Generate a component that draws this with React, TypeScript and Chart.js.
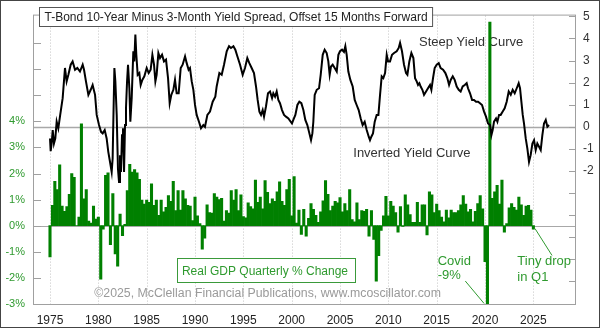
import React, { useEffect, useRef } from "react";
import { Chart, registerables } from "chart.js";

Chart.register(...registerables);

const FONT = "'Liberation Sans', Arial, Helvetica, sans-serif";

// Real GDP quarterly % change (not annualized), first bar = 1975 Q1
const gdpFirstYear = 1975;
const gdpQuarterlyPct = [
  -1.2, 0.78, 1.7, 1.38, // 1975
  2.33, 0.75, 0.55, 0.73, // 1976
  1.2, 2.0, 1.85, 0.0, // 1977
  0.33, 3.9, 1.03, 1.38, // 1978
  0.18, 0.1, 0.75, 0.25, // 1979
  0.33, -2.05, -0.13, 1.93, // 1980
  2.03, -0.73, 1.23, -1.08, // 1981
  -1.55, 0.45, -0.38, 0.05, // 1982
  1.35, 2.35, 2.05, 2.15, // 1983
  2.03, 1.78, 0.98, 0.83, // 1984
  0.98, 0.9, 1.6, 0.78, // 1985
  0.98, 0.4, 0.98, 0.53, // 1986
  0.7, 1.15, 0.93, 1.7, // 1987
  0.58, 1.35, 0.6, 1.35, // 1988
  1.03, 0.78, 0.75, 0.2, // 1989
  1.1, 0.38, 0.08, -0.9, // 1990
  -0.48, 0.8, 0.5, 0.48, // 1991
  1.23, 1.1, 1.0, 1.05, // 1992
  0.18, 0.58, 0.48, 1.35, // 1993
  0.98, 1.38, 0.58, 1.18, // 1994
  0.35, 0.3, 0.88, 0.73, // 1995
  0.65, 1.75, 0.9, 1.1, // 1996
  0.65, 1.73, 1.28, 0.85, // 1997
  1.03, 0.93, 1.3, 1.68, // 1998
  0.93, 0.78, 1.38, 1.78, // 1999
  0.38, 1.88, 0.1, 0.6, // 2000
  -0.33, 0.63, -0.4, 0.28, // 2001
  0.85, 0.63, 0.4, 0.13, // 2002
  0.53, 0.95, 1.73, 1.2, // 2003
  0.58, 0.75, 0.93, 0.88, // 2004
  1.08, 0.53, 0.85, 0.58, // 2005
  1.38, 0.23, 0.15, 0.88, // 2006
  0.23, 0.58, 0.55, 0.63, // 2007
  -0.4, 0.58, -0.53, -2.13, // 2008
  -1.15, -0.18, 0.38, 1.13, // 2009
  0.38, 0.93, 0.75, 0.5, // 2010
  -0.25, 0.73, -0.03, 1.18, // 2011
  0.8, 0.43, 0.13, 0.13, // 2012
  0.9, 0.13, 0.8, 0.8, // 2013
  -0.35, 1.3, 1.18, 0.5, // 2014
  0.83, 0.58, 0.33, 0.15, // 2015
  0.6, 0.3, 0.6, 0.5, // 2016
  0.5, 0.58, 0.8, 1.15, // 2017
  0.83, 0.53, 0.63, 0.15, // 2018
  0.55, 0.85, 1.15, 0.65, // 2019
  -1.38, -9.0, 7.8, 1.05, // 2020
  1.3, 1.55, 0.83, 1.75, // 2021
  -0.25, 0.08, 0.68, 0.85, // 2022
  0.7, 0.6, 1.1, 0.8, // 2023
  0.4, 0.75, 0.78, 0.6, // 2024
  -0.13, // 2025
];

// 10-Year minus 3-Month yield spread, offset 15 months forward (decimal years)
const spreadYears = [
  1975.0, 1975.07, 1975.17, 1975.28, 1975.41, 1975.55, 1975.69, 1975.86, 1976.03, 1976.31,
  1976.55, 1976.72, 1976.9, 1977.14, 1977.34, 1977.59, 1977.83, 1978.1, 1978.38, 1978.52,
  1978.72, 1978.97, 1979.21, 1979.41, 1979.66, 1979.83, 1980.07, 1980.28, 1980.45, 1980.66,
  1980.86, 1981.03, 1981.21, 1981.38, 1981.48, 1981.55, 1981.66, 1981.76, 1981.9, 1982.03,
  1982.14, 1982.24, 1982.34, 1982.45, 1982.55, 1982.66, 1982.76, 1982.86, 1982.97, 1983.07,
  1983.21, 1983.31, 1983.45, 1983.62, 1983.72, 1983.83, 1983.93, 1984.07, 1984.24, 1984.38,
  1984.55, 1984.76, 1985.0, 1985.21, 1985.41, 1985.59, 1985.76, 1985.9, 1986.03, 1986.21,
  1986.38, 1986.59, 1986.79, 1987.0, 1987.21, 1987.38, 1987.55, 1987.76, 1987.93, 1988.1,
  1988.31, 1988.52, 1988.72, 1988.97, 1989.14, 1989.34, 1989.48, 1989.66, 1989.83, 1990.0,
  1990.17, 1990.41, 1990.62, 1990.86, 1991.03, 1991.28, 1991.55, 1991.83, 1992.1, 1992.24,
  1992.52, 1992.76, 1993.0, 1993.28, 1993.52, 1993.72, 1993.97, 1994.17, 1994.38, 1994.66,
  1994.93, 1995.17, 1995.41, 1995.62, 1995.86, 1996.1, 1996.31, 1996.48, 1996.66, 1996.83,
  1997.0, 1997.14, 1997.34, 1997.55, 1997.76, 1997.97, 1998.1, 1998.28, 1998.45, 1998.62,
  1998.79, 1999.0, 1999.21, 1999.41, 1999.66, 1999.9, 2000.03, 2000.17, 2000.38, 2000.59,
  2000.79, 2001.0, 2001.21, 2001.41, 2001.62, 2001.83, 2002.0, 2002.14, 2002.24, 2002.38,
  2002.59, 2002.83, 2003.0, 2003.21, 2003.41, 2003.62, 2003.79, 2003.93, 2004.07, 2004.24,
  2004.45, 2004.66, 2004.83, 2005.0, 2005.21, 2005.41, 2005.55, 2005.69, 2005.86, 2006.07,
  2006.31, 2006.52, 2006.72, 2006.93, 2007.14, 2007.34, 2007.55, 2007.76, 2007.97, 2008.1,
  2008.24, 2008.41, 2008.59, 2008.79, 2008.97, 2009.14, 2009.31, 2009.48, 2009.66, 2009.83,
  2009.97, 2010.17, 2010.38, 2010.59, 2010.86, 2011.07, 2011.21, 2011.41, 2011.62, 2011.83,
  2011.97, 2012.17, 2012.38, 2012.59, 2012.76, 2012.93, 2013.07, 2013.21, 2013.34, 2013.52,
  2013.69, 2013.9, 2014.1, 2014.31, 2014.45, 2014.62, 2014.79, 2015.0, 2015.21, 2015.41,
  2015.66, 2015.9, 2016.1, 2016.28, 2016.45, 2016.66, 2016.86, 2017.07, 2017.28, 2017.48,
  2017.69, 2017.9, 2018.1, 2018.24, 2018.45, 2018.66, 2018.86, 2019.07, 2019.28, 2019.48,
  2019.69, 2019.9, 2020.1, 2020.31, 2020.52, 2020.66, 2020.79, 2020.93, 2021.14, 2021.28,
  2021.45, 2021.62, 2021.83, 2022.03, 2022.24, 2022.45, 2022.66, 2022.86, 2023.07, 2023.28,
  2023.48, 2023.62, 2023.76, 2023.9, 2024.03, 2024.21, 2024.38, 2024.55, 2024.72, 2024.9,
  2025.07, 2025.24, 2025.41, 2025.59, 2025.76, 2025.93, 2026.1, 2026.28, 2026.45, 2026.62,
];
const spreadValues = [
  -0.54, -1.12, -0.77, -0.16, -0.77, -0.54, 0.22, -0.08, 0.45, 1.29,
  2.66, 2.05, 2.35, 2.81, 2.96, 2.58, 2.66, 2.5, 2.81, 2.58,
  2.05, 1.44, 1.67, 1.89, 1.44, 0.53, 0.07, -0.24, -0.31, -0.16,
  -0.54, -1.15, -1.61, -2.06, -1.45, 0.22, 2.66, 2.05, 0.53, -1.91,
  -2.52, -1.3, -2.06, -0.39, -0.08, -2.06, 0.07, 0.83, 2.05, 2.81,
  1.74, 0.22, 1.29, 3.42, 2.96, 4.18, 3.26, 2.35, 2.43, 1.89,
  2.12, 2.28, 2.66, 2.43, 2.58, 3.26, 2.81, 2.05, 2.35, 3.34,
  3.11, 3.26, 2.96, 3.04, 2.2, 1.06, 1.44, 1.67, 2.12, 1.51,
  1.51, 2.66, 2.81, 3.19, 2.88, 2.58, 2.66, 2.05, 1.67, 0.98,
  0.53, 0.22, -0.08, 0.07, -0.01, 0.53, 0.68, 1.13, 1.36, 1.82,
  2.43, 2.35, 2.81, 3.42, 3.65, 3.57, 3.65, 3.49, 3.19, 2.81,
  2.35, 2.66, 3.11, 2.88, 2.66, 2.43, 1.82, 1.21, 0.68, 0.53,
  0.75, 0.45, 0.91, 1.51, 1.59, 1.29, 1.51, 1.36, 1.59, 1.21,
  1.06, 0.75, 0.53, 0.45, 0.37, 0.22, 0.14, 0.3, 0.53, 0.98,
  1.13, 1.06, 0.75, 0.3, 0.07, -0.31, -0.62, -0.31, 0.22, 1.44,
  1.67, 1.74, 2.35, 3.26, 3.49, 3.34, 2.96, 2.35, 2.73, 2.81,
  2.66, 2.5, 3.26, 3.42, 3.49, 3.39, 3.65, 3.26, 2.5, 2.12,
  1.82, 1.21, 0.98, 0.75, 0.37, 0.07, 0.22, -0.16, -0.46, -0.62,
  -0.46, -0.31, 0.22, 0.53, 0.53, 1.44, 2.28, 2.2, 2.43, 3.26,
  2.96, 2.96, 3.26, 3.34, 3.42, 3.57, 3.8, 3.42, 2.81, 2.43,
  2.35, 2.96, 3.34, 3.11, 2.2, 2.05, 1.89, 1.97, 1.82, 1.67,
  1.44, 1.59, 1.74, 1.89, 1.67, 2.2, 2.66, 2.81, 2.88, 2.66,
  2.58, 2.43, 2.2, 1.89, 2.12, 2.28, 2.12, 1.82, 1.67, 1.59,
  1.82, 1.89, 1.97, 1.74, 1.51, 1.21, 1.21, 1.13, 1.13, 1.06,
  0.98, 0.68, 0.45, 0.14, 0.07, -0.39, -0.16, 0.22, 0.37, 0.22,
  0.53, 0.53, 0.68, 0.83, 1.13, 1.59, 1.44, 1.67, 1.51, 1.74,
  1.97, 1.74, 1.13, 0.53, 0.14, -0.54, -1.0, -1.61, -1.3, -0.77,
  -0.62, -1.07, -0.77, -0.92, -1.07, -0.39, 0.14, 0.3, -0.01, 0.07,
];

const yearTicks = [1975, 1980, 1985, 1990, 1995, 2000, 2005, 2010, 2015, 2020, 2025];
const gdpTickValues = [-3, -2, -1, 0, 1, 2, 3, 4, 5, 6, 7];
const gdpLabelMin = -3;
const gdpLabelMax = 4;
const spreadTickValues = [-7, -6, -5, -4, -3, -2, -1, 0, 1, 2, 3, 4, 5];
const spreadLabelMin = -2;
const spreadLabelMax = 5;

const titleText = "T-Bond 10-Year Minus 3-Month Yield Spread, Offset 15 Months Forward";
const gdpLabelText = "Real GDP Quarterly % Change";
const copyrightText = "\u00A92025, McClellan Financial Publications, www.mcoscillator.com";

const GREEN = "#008000";
const LABEL_GREEN = "#2f9a2f";

const decorPlugin = {
  id: "decor",
  beforeDatasetsDraw(chart: any) {
    const { ctx, chartArea: a, scales } = chart;
    const xs = scales.x;
    const yl = scales.y;
    const yr = scales.y2;
    ctx.save();
    // dotted vertical gridlines
    ctx.strokeStyle = "#c4c4c4";
    ctx.lineWidth = 1;
    ctx.setLineDash([1, 2]);
    for (const yv of yearTicks) {
      const px = Math.round(xs.getPixelForValue(yv)) + 0.5;
      ctx.beginPath();
      ctx.moveTo(px, a.top);
      ctx.lineTo(px, a.bottom);
      ctx.stroke();
    }
    ctx.setLineDash([]);
    // zero lines
    ctx.strokeStyle = "#a8a8a8";
    ctx.lineWidth = 1.3;
    const z2 = Math.round(yr.getPixelForValue(0)) + 0.5;
    ctx.beginPath();
    ctx.moveTo(a.left, z2);
    ctx.lineTo(a.right, z2);
    ctx.stroke();
    ctx.lineWidth = 1;
    const z1 = Math.round(yl.getPixelForValue(0)) + 0.5;
    ctx.beginPath();
    ctx.moveTo(a.left, z1);
    ctx.lineTo(a.right, z1);
    ctx.stroke();

    // annotation texts (under the data)
    ctx.font = `13px ${FONT}`;
    ctx.fillStyle = "#333";
    ctx.textBaseline = "alphabetic";
    ctx.textAlign = "left";
    ctx.fillText("Steep Yield Curve", xs.getPixelForValue(2013.17), yr.getPixelForValue(3.68));
    ctx.fillText("Inverted Yield Curve", xs.getPixelForValue(2006.37), yr.getPixelForValue(-1.4));
    ctx.restore();
  },
  afterDatasetsDraw(chart: any) {
    const { ctx, chartArea: a, scales, width, height } = chart;
    const xs = scales.x;
    const yl = scales.y;
    const yr = scales.y2;
    ctx.save();
    // plot frame
    ctx.strokeStyle = "#a0a0a0";
    ctx.lineWidth = 1;
    ctx.strokeRect(a.left - 0.5, a.top - 0.5, a.right - a.left, a.bottom - a.top + 1);
    // inward tick marks
    ctx.beginPath();
    for (const v of gdpTickValues) {
      const py = Math.round(yl.getPixelForValue(v)) + 0.5;
      ctx.moveTo(a.left, py);
      ctx.lineTo(a.left + 7, py);
    }
    for (const v of spreadTickValues) {
      const py = Math.round(yr.getPixelForValue(v)) + 0.5;
      ctx.moveTo(a.right - 7, py);
      ctx.lineTo(a.right, py);
    }
    ctx.stroke();

    // title box
    ctx.font = `12px ${FONT}`;
    const tw = ctx.measureText(titleText).width;
    ctx.fillStyle = "#fff";
    ctx.fillRect(40, 8, tw + 9, 18);
    ctx.strokeStyle = "#555";
    ctx.strokeRect(39.5, 7.5, tw + 10, 19);
    ctx.fillStyle = "#222";
    ctx.textAlign = "left";
    ctx.textBaseline = "alphabetic";
    ctx.fillText(titleText, 44.5, 21);

    // GDP label box
    const bx1 = Math.round(xs.getPixelForValue(1988.14)) + 0.5;
    const bx2 = Math.round(xs.getPixelForValue(2006.55)) + 0.5;
    const by1 = Math.round(yl.getPixelForValue(-1.22)) + 0.5;
    const by2 = Math.round(yl.getPixelForValue(-2.17)) + 0.5;
    ctx.fillStyle = "#fff";
    ctx.fillRect(bx1, by1, bx2 - bx1, by2 - by1);
    ctx.strokeStyle = "#3a9a3a";
    ctx.strokeRect(bx1, by1, bx2 - bx1, by2 - by1);
    ctx.font = `12px ${FONT}`;
    ctx.fillStyle = LABEL_GREEN;
    ctx.fillText(gdpLabelText, xs.getPixelForValue(1988.65), yl.getPixelForValue(-1.9));

    // copyright
    ctx.font = `12.3px ${FONT}`;
    ctx.fillStyle = "#9a9a9a";
    ctx.fillText(copyrightText, xs.getPixelForValue(1979.58), yl.getPixelForValue(-2.74));

    // Covid / Q1 notes
    ctx.fillStyle = LABEL_GREEN;
    ctx.font = `13px ${FONT}`;
    ctx.fillText("Covid", xs.getPixelForValue(2015.1), yl.getPixelForValue(-1.49));
    ctx.fillText("-9%", xs.getPixelForValue(2015.1), yl.getPixelForValue(-2.06));
    ctx.fillText("Tiny drop", xs.getPixelForValue(2023.34), yl.getPixelForValue(-1.52));
    ctx.fillText("in Q1", xs.getPixelForValue(2023.34), yl.getPixelForValue(-2.12));
    ctx.strokeStyle = LABEL_GREEN;
    ctx.lineWidth = 1;
    ctx.beginPath();
    ctx.moveTo(xs.getPixelForValue(2017.96), yl.getPixelForValue(-2.12));
    ctx.lineTo(xs.getPixelForValue(2019.9), yl.getPixelForValue(-2.98));
    ctx.moveTo(xs.getPixelForValue(2025.17), yl.getPixelForValue(-0.11));
    ctx.lineTo(xs.getPixelForValue(2026.93), yl.getPixelForValue(-1.14));
    ctx.stroke();

    // outer frame
    ctx.strokeStyle = "#444";
    ctx.strokeRect(0.5, 0.5, width - 1, height - 2);
    ctx.restore();
  },
};

export default function App() {
  const canvasRef = useRef<HTMLCanvasElement | null>(null);

  useEffect(() => {
    document.body.style.margin = "0";
    const canvas = canvasRef.current;
    if (!canvas) return;

    const gdpPoints = gdpQuarterlyPct.map((v, i) => ({ x: gdpFirstYear + i / 4, y: v }));
    const spreadPoints = spreadYears.map((yv, i) => ({ x: yv, y: spreadValues[i] }));

    const chart = new Chart(canvas, {
      type: "bar",
      data: {
        datasets: [
          {
            type: "line",
            label: "Yield spread",
            data: spreadPoints,
            xAxisID: "x",
            yAxisID: "y2",
            borderColor: "#000",
            borderWidth: 2,
            pointRadius: 0,
            tension: 0,
            fill: false,
            order: 0,
          } as any,
          {
            type: "bar",
            label: "Real GDP",
            data: gdpPoints,
            xAxisID: "x",
            yAxisID: "y",
            backgroundColor: GREEN,
            borderWidth: 0,
            barPercentage: 1,
            categoryPercentage: 1,
            order: 1,
          } as any,
        ],
      },
      options: {
        responsive: false,
        animation: false,
        devicePixelRatio: 1,
        events: [],
        layout: { padding: { top: 14, left: 0, right: 0, bottom: 0 } },
        font: { family: FONT },
        plugins: { legend: { display: false }, tooltip: { enabled: false } },
        scales: {
          x: {
            type: "linear",
            position: "bottom",
            min: 1973.345,
            max: 2029.41,
            offset: false,
            grid: { display: false, drawTicks: false, offset: false },
            border: { display: false },
            ticks: {
              stepSize: 5,
              includeBounds: false,
              autoSkip: false,
              maxRotation: 0,
              color: "#222",
              padding: 9,
              font: { size: 12, family: FONT },
              callback: (v: any) => String(v),
            },
            afterFit: (s: any) => {
              s.height = 25;
            },
          },
          y: {
            type: "linear",
            position: "left",
            min: -3,
            max: 8.05,
            grid: { display: false, drawTicks: false },
            border: { display: false },
            ticks: {
              stepSize: 1,
              includeBounds: false,
              color: LABEL_GREEN,
              padding: 9,
              font: { size: 11, family: FONT },
              callback: (v: any) => (v >= gdpLabelMin && v <= gdpLabelMax ? `${v}%` : ""),
            },
            afterFit: (s: any) => {
              s.width = 34;
            },
          },
          y2: {
            type: "linear",
            position: "right",
            min: -8.06,
            max: 5.04,
            grid: { display: false, drawTicks: false },
            border: { display: false },
            ticks: {
              stepSize: 1,
              includeBounds: false,
              color: "#333",
              padding: 7,
              font: { size: 12, family: FONT },
              callback: (v: any) => (v >= spreadLabelMin && v <= spreadLabelMax ? String(v) : ""),
            },
            afterFit: (s: any) => {
              s.width = 24;
            },
          },
        },
      } as any,
      plugins: [decorPlugin],
    });

    return () => chart.destroy();
  }, []);

  return (
    <div style={{ width: 600, height: 329, position: "relative", background: "#fff" }}>
      <canvas ref={canvasRef} width={600} height={329} style={{ display: "block" }} />
    </div>
  );
}
